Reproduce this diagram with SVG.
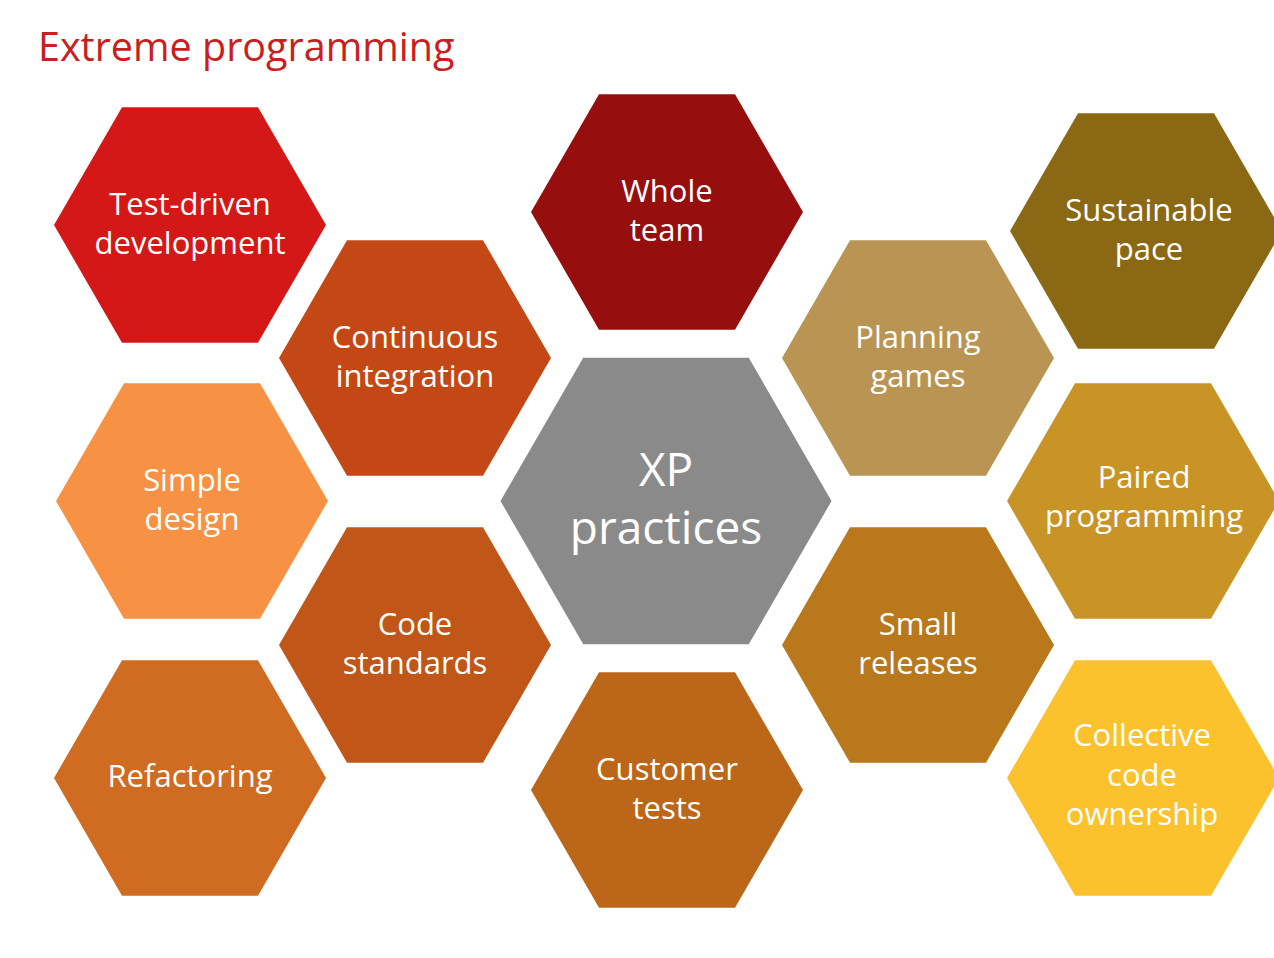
<svg xmlns="http://www.w3.org/2000/svg" xmlns:xlink="http://www.w3.org/1999/xlink" width="1274" height="958" viewBox="0 0 1274 958">
<style>
.t{font-family:"Open Sans","Liberation Sans",sans-serif;fill:#fff;text-anchor:middle;font-size:31px}
.xp{font-size:46px}
.title{font-family:"Open Sans","Liberation Sans",sans-serif;fill:#C8201E;font-size:39.5px}
</style>
<defs>
<polygon id="hex" points="-136,0 -68,-117.8 68,-117.8 136,0 68,117.8 -68,117.8"/>
<polygon id="hexL" points="-165.5,0 -82.75,-143.3 82.75,-143.3 165.5,0 82.75,143.3 -82.75,143.3"/>
</defs>
<rect width="1274" height="958" fill="#fff"/>
<text class="title" x="38" y="61">Extreme programming</text>

<g id="tdd"><use xlink:href="#hex" transform="translate(190,225)" fill="#D41818"/>
<text class="t" x="190" y="215">Test-driven</text><text class="t" x="190" y="254">development</text></g>

<g id="ci"><use xlink:href="#hex" transform="translate(415,358)" fill="#C44815"/>
<text class="t" x="415" y="348">Continuous</text><text class="t" x="415" y="387">integration</text></g>

<g id="simple"><use xlink:href="#hex" transform="translate(192,501)" fill="#F79244"/>
<text class="t" x="192" y="491">Simple</text><text class="t" x="192" y="530">design</text></g>

<g id="code"><use xlink:href="#hex" transform="translate(415,645)" fill="#C05618"/>
<text class="t" x="415" y="635">Code</text><text class="t" x="415" y="674">standards</text></g>

<g id="refactoring"><use xlink:href="#hex" transform="translate(190,778)" fill="#D06B22"/>
<text class="t" x="190" y="787">Refactoring</text></g>

<g id="whole"><use xlink:href="#hex" transform="translate(667,212)" fill="#970E0E"/>
<text class="t" x="667" y="202">Whole</text><text class="t" x="667" y="241">team</text></g>

<g id="xp"><use xlink:href="#hexL" transform="translate(666,501)" fill="#8A8A8A"/>
<text class="t xp" x="666" y="486">XP</text><text class="t xp" x="666" y="544">practices</text></g>

<g id="customer"><use xlink:href="#hex" transform="translate(667,790)" fill="#BC6619"/>
<text class="t" x="667" y="780">Customer</text><text class="t" x="667" y="819">tests</text></g>

<g id="planning"><use xlink:href="#hex" transform="translate(918,358)" fill="#B99453"/>
<text class="t" x="918" y="348">Planning</text><text class="t" x="918" y="387">games</text></g>

<g id="small"><use xlink:href="#hex" transform="translate(918,645)" fill="#B8781B"/>
<text class="t" x="918" y="635">Small</text><text class="t" x="918" y="674">releases</text></g>

<g id="sustainable"><use xlink:href="#hex" transform="translate(1146,231)" fill="#8B6914"/>
<text class="t" x="1149" y="221">Sustainable</text><text class="t" x="1149" y="260">pace</text></g>

<g id="paired"><use xlink:href="#hex" transform="translate(1143,501)" fill="#C99426"/>
<text class="t" x="1144" y="488">Paired</text><text class="t" x="1144" y="527">programming</text></g>

<g id="collective"><use xlink:href="#hex" transform="translate(1143,778)" fill="#FCC22E"/>
<text class="t" x="1142" y="746">Collective</text><text class="t" x="1142" y="786">code</text><text class="t" x="1142" y="825">ownership</text></g>
</svg>
